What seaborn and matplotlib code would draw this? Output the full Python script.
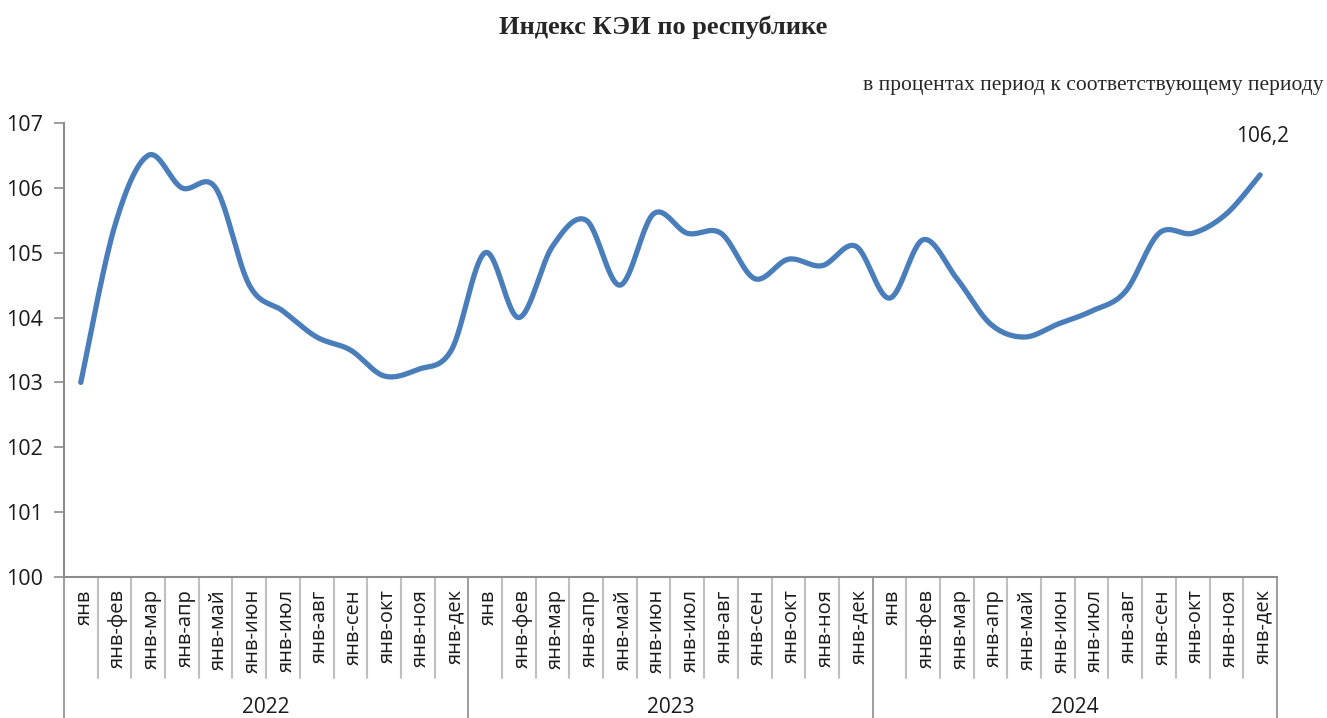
import numpy as np
import pandas as pd
import matplotlib.pyplot as plt
import seaborn as sns

# Data
YEARS = ["2022", "2023", "2024"]
MONTHS = ["янв", "янв-фев", "янв-мар", "янв-апр", "янв-май", "янв-июн",
          "янв-июл", "янв-авг", "янв-сен", "янв-окт", "янв-ноя", "янв-дек"]
VALUES_2022 = [103.0, 105.4, 106.5, 106.0, 106.0, 104.5, 104.1, 103.7, 103.5, 103.1, 103.2, 103.5]
VALUES_2023 = [105.0, 104.0, 105.1, 105.5, 104.5, 105.6, 105.3, 105.3, 104.6, 104.9, 104.8, 105.1]
VALUES_2024 = [104.3, 105.2, 104.6, 103.9, 103.7, 103.9, 104.1, 104.4, 105.3, 105.3, 105.6, 106.2]

TITLE = "Индекс КЭИ по республике"
SUBTITLE = "в процентах период к соответствующему периоду"
LAST_LABEL = "106,2"

LINE_COLOR = "#4a7ebb"
AXIS_COLOR = "#8c8c8c"


def smooth_line(y, steps=30):
    """Excel-like smoothed line: cubic Bezier through points (Catmull-Rom)."""
    y = np.asarray(y, dtype=float)
    x = np.arange(len(y), dtype=float)
    xs, ys = [], []
    n = len(y)
    for i in range(n - 1):
        i0, i3 = max(i - 1, 0), min(i + 2, n - 1)
        p0, p1, p2, p3 = [np.array([x[j], y[j]]) for j in (i0, i, i + 1, i3)]
        c1 = p1 + (p2 - p0) / 6
        c2 = p2 - (p3 - p1) / 6
        t = np.linspace(0, 1, steps, endpoint=(i == n - 2))[:, None]
        pts = ((1 - t) ** 3) * p1 + 3 * ((1 - t) ** 2) * t * c1 + 3 * (1 - t) * t ** 2 * c2 + t ** 3 * p2
        xs.extend(pts[:, 0])
        ys.extend(pts[:, 1])
    return pd.DataFrame({"x": xs, "y": ys})


def main():
    sns.set_theme(style="white")
    plt.rcParams["font.family"] = ["Open Sans", "DejaVu Sans"]

    values = VALUES_2022 + VALUES_2023 + VALUES_2024
    n = len(values)
    curve = smooth_line(values)

    fig = plt.figure(figsize=(13.27, 7.18), dpi=100)
    ax = fig.add_axes([0.0482, 0.1964, 0.9141, 0.6323])

    sns.lineplot(data=curve, x="x", y="y", ax=ax, color=LINE_COLOR, linewidth=3.8,
                 solid_capstyle="round", sort=False)

    ax.set_xlim(-0.5, n - 0.5)
    ax.set_ylim(100, 107)
    ax.set_yticks(range(100, 108))
    ax.set_yticklabels([str(v) for v in range(100, 108)], fontsize=15.5, color="#1a1a1a")
    ax.set_xticks([])
    ax.set_xlabel("")
    ax.set_ylabel("")
    ax.tick_params(axis="y", left=True, length=7, width=1.2, color=AXIS_COLOR, pad=8)

    for side in ["top", "right"]:
        ax.spines[side].set_visible(False)
    for side in ["left", "bottom"]:
        ax.spines[side].set_color(AXIS_COLOR)
        ax.spines[side].set_linewidth(1.5)

    # last value label
    ax.annotate(LAST_LABEL, (n - 1, values[-1]), xytext=(2, 20), textcoords="offset points",
                ha="center", va="bottom", fontsize=15, color="#1a1a1a")

    # two-level category axis
    trans = ax.get_xaxis_transform()
    month_bottom = -0.2225
    year_bottom = -0.32
    for i in range(n + 1):
        xb = i - 0.5
        is_year = i % 12 == 0
        ax.plot([xb, xb], [0, year_bottom if is_year else month_bottom], transform=trans,
                color="#bfbfbf" if not is_year else AXIS_COLOR, lw=1.5 if not is_year else 1.2,
                clip_on=False)
    for i in range(n):
        ax.text(i + 0.1, -0.027, MONTHS[i % 12], transform=trans, rotation=90, ha="center", va="top",
                fontsize=14.5, color="#1a1a1a")
    for k, year in enumerate(YEARS):
        ax.text(k * 12 + 5.5, -0.288, year, transform=trans, ha="center", va="center",
                fontsize=15, color="#1a1a1a")

    fig.text(0.5, 0.962, TITLE, ha="center", va="center", fontsize=19, fontweight="bold",
             family="Liberation Serif")
    fig.text(0.9975, 0.881, SUBTITLE, ha="right", va="center", fontsize=15.5,
             family="Liberation Serif")

    fig.savefig("out.png", dpi=100)


if __name__ == "__main__":
    main()
